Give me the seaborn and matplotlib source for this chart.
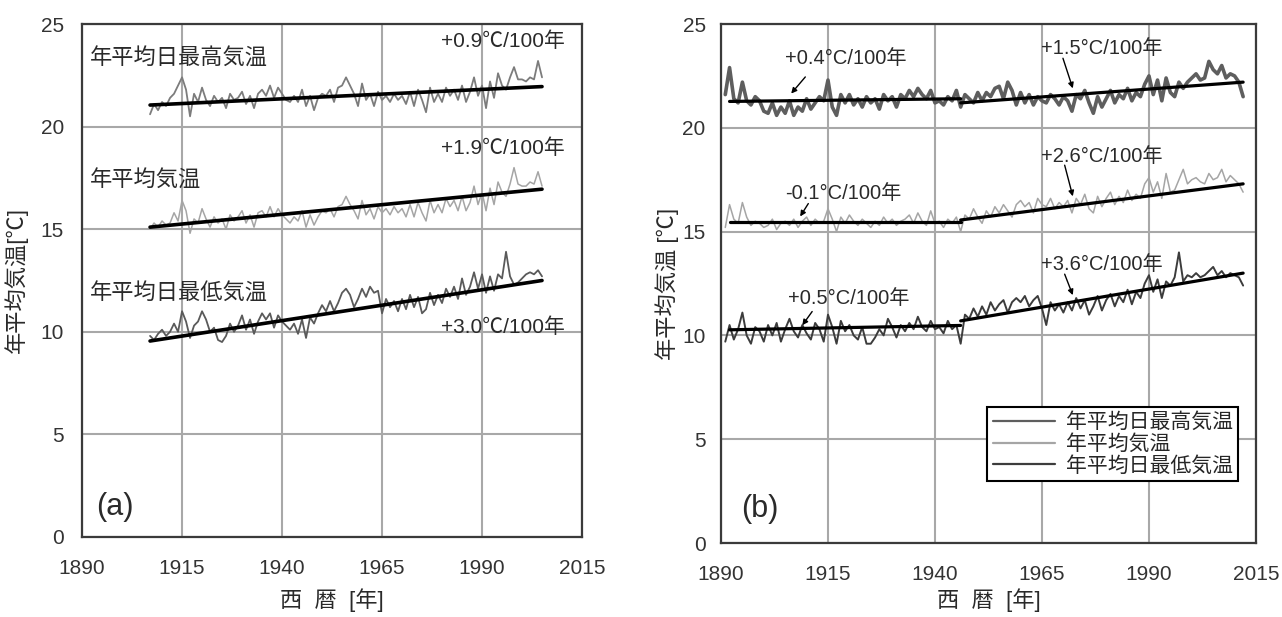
import numpy as np
import pandas as pd
import matplotlib
matplotlib.use("Agg")
import matplotlib.pyplot as plt
import seaborn as sns

# ---------------- data ----------------
years_a = list(range(1907, 2006))
tmax_a = [20.6, 21.1, 20.8, 21.2, 21.0, 21.4, 21.6, 22.0, 22.4, 21.8,
          20.5, 21.6, 21.2, 21.9, 21.3, 21.0, 21.5, 21.2, 21.4, 20.9,
          21.6, 21.3, 21.4, 21.7, 21.1, 21.5, 20.9, 21.6, 21.8, 21.5,
          22.0, 21.4, 21.9, 21.6, 21.3, 21.2, 21.5, 21.2, 21.8, 21.0,
          21.5, 20.8, 21.4, 21.6, 21.5, 21.8, 21.2, 21.9, 22.0, 22.4,
          22.0, 21.6, 21.0, 22.1, 21.3, 21.6, 21.0, 21.7, 21.3, 21.5,
          21.2, 21.6, 21.3, 21.5, 21.1, 21.7, 21.0, 21.8, 21.3, 20.7,
          21.9, 21.2, 21.6, 21.2, 21.9, 21.5, 21.8, 21.3, 22.0, 21.2,
          21.7, 22.4, 21.5, 22.0, 20.9, 22.2, 21.4, 22.6, 22.0, 21.8,
          22.4, 22.9, 22.3, 22.3, 22.2, 22.4, 22.3, 23.2, 22.4]
tmean_a = [15.0, 15.3, 15.1, 15.4, 15.2, 15.3, 15.8, 15.4, 16.4, 15.9,
           14.8, 15.5, 15.3, 16.0, 15.5, 15.1, 15.6, 15.3, 15.5, 15.0,
           15.7, 15.4, 15.6, 15.9, 15.3, 15.7, 15.1, 15.8, 15.9, 15.6,
           16.1, 15.6, 16.0, 15.7, 15.5, 15.3, 15.6, 15.4, 15.9, 15.1,
           15.7, 15.2, 15.6, 15.9, 15.8, 16.0, 15.6, 16.1, 16.2, 16.6,
           16.2, 15.9, 15.5, 16.4, 15.7, 16.0, 15.5, 16.1, 15.8, 16.0,
           15.7, 16.1, 15.8, 16.0, 15.6, 16.2, 15.6, 16.3, 15.8, 15.4,
           16.4, 15.8, 16.2, 15.8, 16.5, 16.1, 16.4, 15.9, 16.6, 15.9,
           16.3, 17.1, 16.2, 16.8, 15.9, 17.0, 16.2, 17.3, 16.8, 16.6,
           17.2, 18.0, 17.2, 17.1, 17.1, 17.3, 17.2, 17.8, 17.1]
tmin_a = [9.8, 9.6, 9.9, 10.1, 9.8, 10.0, 10.4, 10.0, 11.0, 10.5,
          9.7, 10.3, 10.5, 11.0, 10.6, 10.0, 10.2, 9.6, 9.5, 9.8,
          10.4, 10.0, 10.3, 10.8, 10.1, 10.6, 9.9, 10.5, 10.9, 10.6,
          10.9, 10.2, 10.8, 10.5, 10.3, 10.1, 10.4, 9.9, 10.6, 9.7,
          10.7, 10.4, 10.9, 11.3, 11.0, 11.5, 11.0, 11.4, 11.9, 12.1,
          11.8, 11.2, 11.6, 12.1, 11.7, 12.2, 11.9, 12.0, 10.9, 11.6,
          11.2, 11.5, 11.0, 11.6, 11.1, 11.8, 11.2, 11.7, 10.9, 11.1,
          11.9, 11.3, 11.8, 11.4, 12.1, 11.7, 12.2, 11.6, 12.6, 11.8,
          12.2, 12.9, 12.1, 12.8, 11.9, 12.7, 12.0, 12.8, 12.6, 13.9,
          12.7, 12.3, 12.4, 12.6, 12.8, 12.9, 12.8, 13.0, 12.7]

years_b = list(range(1891, 2013))
tmax_b = [21.6, 22.9, 21.4, 21.2, 22.2, 21.3, 21.1, 21.5, 21.3, 20.8,
          20.7, 21.2, 20.6, 21.0, 20.7, 21.3, 20.6, 21.0, 20.8, 21.4,
          20.9, 21.2, 21.5, 21.3, 22.3, 21.0, 20.6, 21.6, 21.2, 21.6,
          21.1, 21.4, 21.0, 21.5, 21.2, 21.4, 20.9, 21.6, 21.3, 21.5,
          21.0, 21.6, 21.4, 21.8, 21.5, 21.9, 21.6, 21.4, 21.8, 21.2,
          21.3, 21.1, 21.5, 21.3, 21.8, 21.0, 21.6, 21.4, 21.2, 21.7,
          21.3, 21.7, 21.5, 21.9, 22.0, 21.4, 22.2, 21.8, 21.1, 21.7,
          21.2, 21.6, 21.1, 21.5, 21.3, 21.2, 21.6, 21.4, 21.1, 21.5,
          21.3, 20.8, 21.6, 21.4, 21.8, 21.2, 20.7, 21.5, 21.0, 21.4,
          21.8, 21.2, 21.6, 21.4, 21.9, 21.3, 21.7, 21.5, 22.1, 22.5,
          21.6, 22.3, 21.3, 22.4, 21.7, 21.5, 22.2, 21.9, 22.2, 22.4,
          22.6, 22.3, 22.4, 23.2, 22.8, 22.6, 23.0, 22.4, 22.6, 22.5,
          22.2, 21.5]
tmean_b = [15.2, 16.3, 15.6, 15.4, 16.4, 15.7, 15.3, 15.5, 15.4, 15.2,
           15.3, 15.6, 15.1, 15.4, 15.5, 15.3, 15.6, 15.2, 15.5, 15.7,
           15.3, 15.6, 15.4, 15.5, 16.1, 15.6, 15.0, 15.7, 15.4, 15.8,
           15.5, 15.3, 15.6, 15.4, 15.2, 15.5, 15.3, 15.7, 15.4, 15.6,
           15.3, 15.5, 15.6, 15.8, 15.4, 15.9, 15.5, 15.3, 16.0, 15.4,
           15.5, 15.2, 15.6, 15.4, 15.7, 15.0, 15.8, 15.6, 16.1, 15.7,
           15.4, 16.0, 15.7, 16.2, 15.9, 16.3, 16.0, 15.7, 16.3, 16.5,
           16.2, 16.4, 15.9, 16.6, 16.3, 16.2, 16.6, 16.1, 16.4, 16.2,
           16.5, 15.9, 16.6, 16.3, 16.8, 16.1, 15.9, 16.7, 16.2, 16.6,
           16.9, 16.3, 16.7, 16.4, 17.0, 16.5, 16.8, 16.6, 17.3, 17.6,
           16.9, 17.4, 16.6, 17.8, 16.9, 17.0, 17.5, 18.0, 17.3, 17.5,
           17.6, 17.4, 17.3, 17.8, 17.5, 17.6, 18.0, 17.4, 17.7, 17.5,
           17.3, 16.9]
tmin_b = [9.7, 10.5, 9.8, 10.3, 11.1, 10.0, 9.6, 10.4, 10.2, 9.7,
          10.5, 10.0, 10.6, 9.7, 10.3, 10.8, 10.2, 9.9, 10.5, 10.1,
          9.8, 10.6, 10.3, 9.7, 11.0, 10.4, 9.6, 10.7, 10.2, 10.5,
          10.0, 9.8, 10.4, 9.6, 9.6, 9.9, 10.3, 10.0, 10.8, 10.4,
          9.9, 10.5, 10.2, 10.6, 10.3, 10.9, 10.4, 10.2, 10.7, 10.3,
          10.4, 10.1, 10.7, 10.3, 10.5, 9.6, 11.0, 10.8, 11.3, 10.9,
          11.4, 11.0, 11.6, 11.2, 11.5, 11.7, 11.1, 11.6, 11.8, 11.6,
          11.9, 11.4, 11.7, 11.9, 11.3, 10.5, 11.6, 11.2, 11.5, 11.1,
          11.6, 11.2, 11.8, 11.3, 11.7, 11.0, 11.4, 11.9, 11.2, 11.7,
          12.0, 11.4, 11.9, 11.6, 12.2, 11.5, 12.1, 11.8, 12.5, 12.9,
          12.1, 12.7, 11.8, 12.6, 12.4, 12.8, 14.0, 12.6, 12.9, 12.8,
          13.0, 12.8, 12.9, 13.1, 13.3, 12.9, 13.1, 12.8, 13.0, 12.9,
          12.8, 12.4]

# trend lines (start/end year, start/end value)
trend_a_years = [1907, 2005]
trend_a_max = [21.05, 21.95]
trend_a_mean = [15.10, 16.95]
trend_a_min = [9.55, 12.50]

trend_b1_years = [1892, 1946]
trend_b2_years = [1946, 2012]
trend_b1_max = [21.27, 21.40]
trend_b2_max = [21.20, 22.20]
trend_b1_mean = [15.45, 15.45]
trend_b2_mean = [15.56, 17.30]
trend_b1_min = [10.27, 10.48]
trend_b2_min = [10.70, 13.00]

series_names = ["年平均日最高気温", "年平均気温", "年平均日最低気温"]
rates_a = ["+0.9℃/100年", "+1.9℃/100年", "+3.0℃/100年"]
rates_b_early = ["+0.4°C/100年", "-0.1°C/100年", "+0.5°C/100年"]
rates_b_late = ["+1.5°C/100年", "+2.6°C/100年", "+3.6°C/100年"]
xticks = [1890, 1915, 1940, 1965, 1990, 2015]
yticks = [0, 5, 10, 15, 20, 25]

# ---------------- style ----------------
sns.set_theme(style="white")
plt.rcParams["font.family"] = ["Liberation Sans", "Noto Sans CJK JP", "DejaVu Sans"]
plt.rcParams["axes.unicode_minus"] = False

fig = plt.figure(figsize=(12.82, 6.17), dpi=100)
ax_a = fig.add_axes([0.064, 0.1297, 0.390, 0.8314])
ax_b = fig.add_axes([0.5624, 0.1199, 0.4173, 0.8412])

df_a = pd.DataFrame({"year": years_a, "max": tmax_a, "mean": tmean_a, "min": tmin_a})
df_b = pd.DataFrame({"year": years_b, "max": tmax_b, "mean": tmean_b, "min": tmin_b})

grid_c = "#a8a8a8"
txt_c = "#2a2a2a"

def style_axes(ax, ypad, xpad):
    ax.set_xlim(1890, 2015)
    ax.set_ylim(0, 25)
    ax.set_xticks(xticks)
    ax.set_yticks(yticks)
    ax.grid(True, color=grid_c, lw=1.5)
    ax.set_axisbelow(True)
    for s in ax.spines.values():
        s.set_color("#3a3a3a")
        s.set_linewidth(1.6)
    ax.tick_params(axis="x", length=0, pad=xpad, labelsize=15, labelcolor="#333333")
    ax.tick_params(axis="y", length=0, pad=ypad, labelsize=15, labelcolor="#333333")

# ---- panel (a)
sns.lineplot(data=df_a, x="year", y="max", ax=ax_a, color="#7c7c7c", lw=1.3)
sns.lineplot(data=df_a, x="year", y="mean", ax=ax_a, color="#a5a5a5", lw=1.1)
sns.lineplot(data=df_a, x="year", y="min", ax=ax_a, color="#5a5a5a", lw=1.3)
for tv in (trend_a_max, trend_a_mean, trend_a_min):
    sns.lineplot(x=trend_a_years, y=tv, ax=ax_a, color="black", lw=2.6)
style_axes(ax_a, 13, 16)

ax_a.text(1892, 23.27, series_names[0], fontsize=16, color=txt_c, va="center", ha="left")
ax_a.text(1892, 17.35, series_names[1], fontsize=16, color=txt_c, va="center", ha="left")
ax_a.text(1892, 11.84, series_names[2], fontsize=16, color=txt_c, va="center", ha="left")
ax_a.text(2010.8, 24.16, rates_a[0], fontsize=15, color=txt_c, va="center", ha="right")
ax_a.text(2010.8, 18.97, rates_a[1], fontsize=15, color=txt_c, va="center", ha="right")
ax_a.text(2010.8, 10.24, rates_a[2], fontsize=15, color=txt_c, va="center", ha="right")
ax_a.text(1893.4, 1.45, "(a)", fontsize=22, color=txt_c, va="center", ha="left")

ax_a.set_xlabel("西  暦  [年]", fontsize=16, color=txt_c)
ax_a.set_ylabel("年平均気温[℃]", fontsize=16, color=txt_c)
ax_a.xaxis.set_label_coords(0.5, -0.1)
ax_a.yaxis.set_label_coords(-0.108, 0.5)

# ---- panel (b)
sns.lineplot(data=df_b, x="year", y="max", ax=ax_b, color="#5e5e5e", lw=2.6, label=series_names[0])
sns.lineplot(data=df_b, x="year", y="mean", ax=ax_b, color="#a5a5a5", lw=1.1, label=series_names[1])
sns.lineplot(data=df_b, x="year", y="min", ax=ax_b, color="#3c3c3c", lw=1.4, label=series_names[2])
for yrs, tv in ((trend_b1_years, trend_b1_max), (trend_b2_years, trend_b2_max),
                (trend_b1_years, trend_b1_mean), (trend_b2_years, trend_b2_mean),
                (trend_b1_years, trend_b1_min), (trend_b2_years, trend_b2_min)):
    sns.lineplot(x=yrs, y=tv, ax=ax_b, color="black", lw=2.3)
style_axes(ax_b, 11, 16)

arrow_kw = dict(arrowstyle="-|>", color="black", lw=1.0, mutation_scale=8, shrinkA=0, shrinkB=0)
ann_b = [
    (rates_b_early[0], (1905.0, 23.35), (1909.7, 22.45), (1906.4, 21.65)),
    (rates_b_late[0], (1964.8, 23.80), (1969.9, 23.35), (1972.2, 21.90)),
    (rates_b_early[1], (1905.0, 16.85), (1910.4, 16.35), (1908.5, 15.73)),
    (rates_b_late[1], (1964.8, 18.64), (1970.3, 18.20), (1972.2, 16.70)),
    (rates_b_early[2], (1905.7, 11.78), (1911.3, 11.15), (1909.0, 10.49)),
    (rates_b_late[2], (1964.8, 13.40), (1970.3, 12.95), (1972.2, 11.94)),
]
for label, tpos, a0, a1 in ann_b:
    ax_b.text(tpos[0], tpos[1], label, fontsize=14.5, color=txt_c, va="center", ha="left")
    ax_b.annotate("", xy=a1, xytext=a0, arrowprops=arrow_kw)

ax_b.text(1894.6, 1.64, "(b)", fontsize=22, color=txt_c, va="center", ha="left")

ax_b.set_xlabel("西  暦  [年]", fontsize=16, color=txt_c)
ax_b.set_ylabel("年平均気温 [℃]", fontsize=16, color=txt_c)
ax_b.xaxis.set_label_coords(0.5, -0.088)
ax_b.yaxis.set_label_coords(-0.078, 0.5)

leg = ax_b.legend(loc="upper right", bbox_to_anchor=(0.966, 0.262), borderaxespad=0,
                  fontsize=15, frameon=True, fancybox=False, framealpha=1,
                  edgecolor="black", handlelength=3.0, handletextpad=0.5,
                  labelspacing=0.1, borderpad=0.25)
leg.get_frame().set_linewidth(1.5)
for h in leg.get_lines():
    h.set_linewidth(1.6)

fig.savefig("out.png", dpi=100)
